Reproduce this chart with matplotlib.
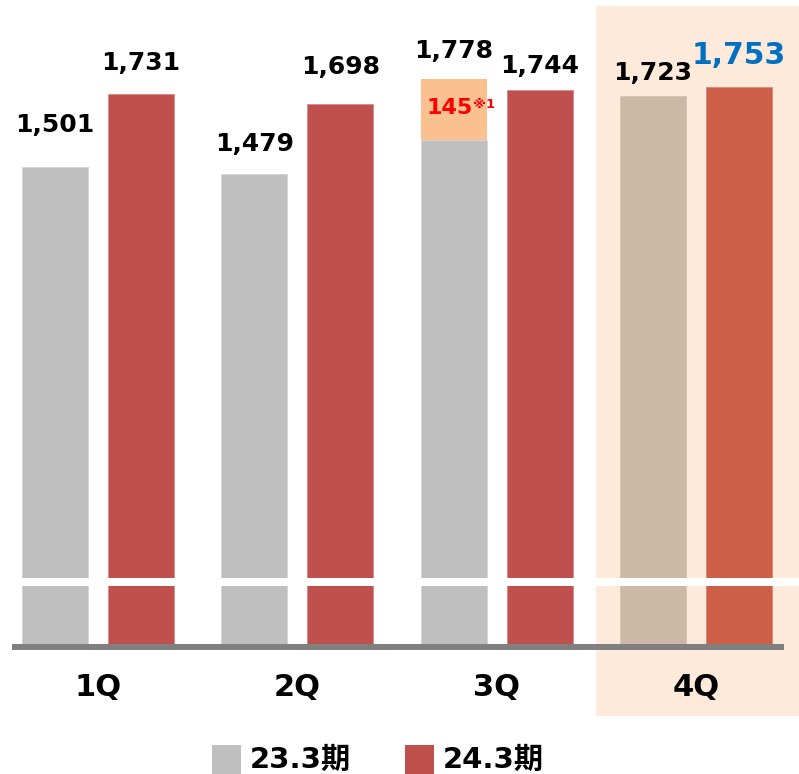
import matplotlib.pyplot as plt
from matplotlib.patches import Rectangle

plt.rcParams['font.family'] = ['DejaVu Sans', 'Noto Sans CJK JP']

# data
quarters = ['1Q', '2Q', '3Q', '4Q']
fy23 = [1501, 1479, 1778, 1723]
fy24 = [1731, 1698, 1744, 1753]
series_names = ['23.3期', '24.3期']
q3_extra = 145          # one-off amount in 3Q of 23.3期 (note ※1)
q3_base_drawn = 1586    # height of the gray part as drawn in the picture

# label offsets above bar tops (points)
off23 = [25, 16.5, 15, 12]
off24 = [17, 21.5, 12, 16]

gray = '#BFBFBF'
red = '#C0504D'
gray_hl = '#CDB7A5'
red_hl = '#CD5E48'
peach = '#FDEADA'
orange = '#FAC090'

fig = plt.figure(figsize=(7.99, 7.74), dpi=100)
ax = fig.add_axes([0, (774 - 647) / 774, 1, 647 / 774])
ax.set_xlim(-0.492, 3.517)
ax.set_ylim(0, 2024)
ax.axis('off')

w = 0.331
d = 0.216
xs = range(len(quarters))

# highlight for 4Q
ax.add_patch(Rectangle((2.499, -216), 1.1, 2222, facecolor=peach,
                       edgecolor='none', zorder=0, clip_on=False))

for i in xs:
    hl = i == 3
    c23 = gray_hl if hl else gray
    c24 = red_hl if hl else red
    if i == 2:
        ax.bar(i - d, q3_base_drawn, w, color=c23, edgecolor='#D4D4D4', lw=0.6, zorder=2)
        ax.bar(i - d, fy23[i] - q3_base_drawn, w, bottom=q3_base_drawn,
               color=orange, edgecolor='none', zorder=2)
        ax.text(i - d - 0.02, (fy23[i] + q3_base_drawn) / 2 + 5, str(q3_extra),
                color='#FF0000', fontsize=16, fontweight='bold',
                ha='center', va='center', zorder=4)
        ax.text(i - d + 0.155, (fy23[i] + q3_base_drawn) / 2 + 16, '※1',
                color='#FF0000', fontsize=9.5, fontweight='bold',
                ha='center', va='center', zorder=4)
    else:
        ax.bar(i - d, fy23[i], w, color=c23, edgecolor='#D4D4D4' if not hl else '#D9C4B2',
               lw=0.6, zorder=2)
    ax.bar(i + d, fy24[i], w, color=c24, edgecolor='#D88A86' if not hl else '#DA8774',
           lw=0.6, zorder=2)

    ax.annotate(f'{fy23[i]:,}', (i - d, fy23[i]), xytext=(0, off23[i]),
                textcoords='offset points', ha='center', va='baseline',
                fontsize=18, fontweight='bold', color='black', zorder=5)
    ax.annotate(f'{fy24[i]:,}', (i + d, fy24[i]), xytext=(0, off24[i]),
                textcoords='offset points', ha='center', va='baseline',
                fontsize=21.5 if hl else 18, fontweight='bold',
                color='#0070C0' if hl else 'black', zorder=5)

    ax.text(i, -128, quarters[i], ha='center', va='center',
            fontsize=22, fontweight='bold', zorder=5)

# white break band
ax.axhspan(191, 216, xmin=0, xmax=1, color='white', zorder=3, lw=0)

# baseline
ax.plot([-0.431, 3.442], [0, 0], color='#808080', lw=4.3, solid_capstyle='butt',
        zorder=4, clip_on=False)

# legend
fig.patches.append(Rectangle((212 / 799, 0), 29 / 799, 29 / 774, transform=fig.transFigure,
                             facecolor=gray, edgecolor='none'))
fig.text(250 / 799, 14 / 774, series_names[0], fontsize=21, fontweight='bold',
         ha='left', va='center')
fig.patches.append(Rectangle((405 / 799, 0), 29 / 799, 29 / 774, transform=fig.transFigure,
                             facecolor=red, edgecolor='none'))
fig.text(443 / 799, 14 / 774, series_names[1], fontsize=21, fontweight='bold',
         ha='left', va='center')

fig.savefig('out.png', dpi=100)
